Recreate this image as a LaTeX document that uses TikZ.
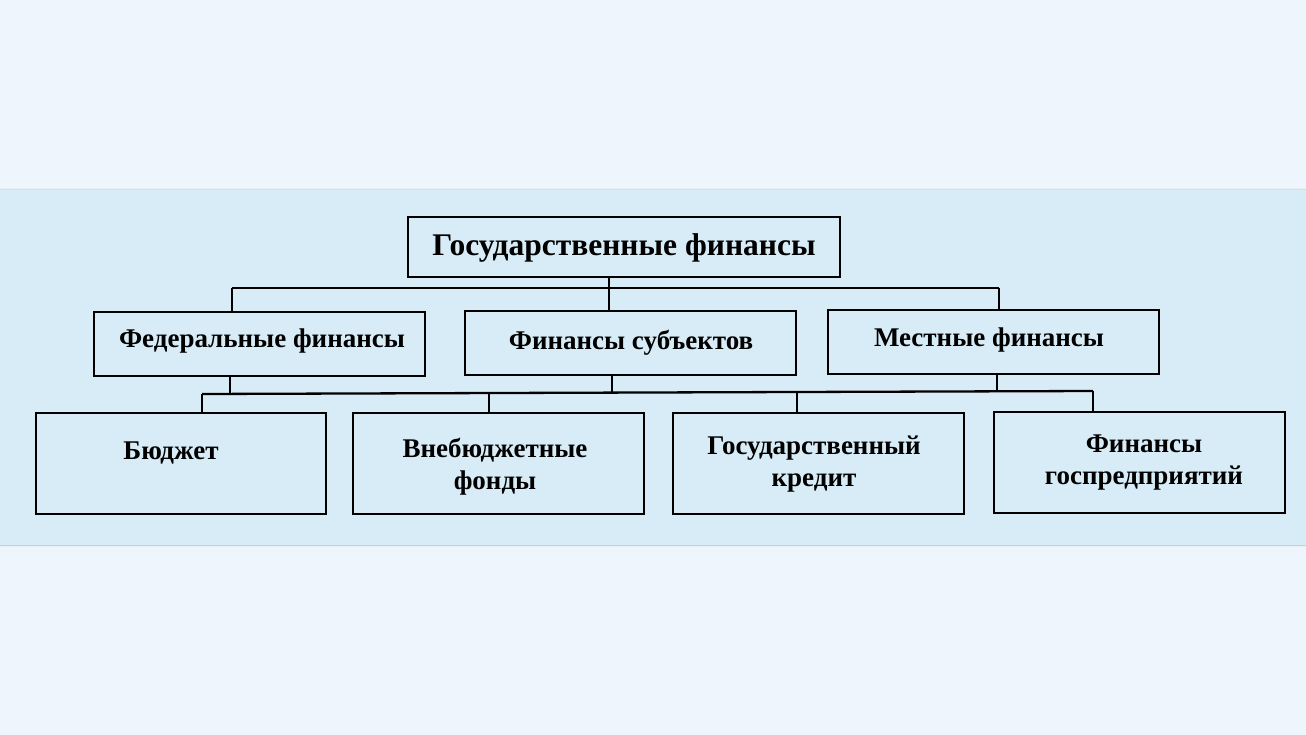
\documentclass[tikz,border=0pt]{standalone}
\usepackage{fontspec}
\setmainfont{Liberation Serif}
\usetikzlibrary{shadows.blur}
\definecolor{bgc}{HTML}{EEF5FD}
\definecolor{band}{HTML}{D7ECF6}
\begin{document}
\begin{tikzpicture}[x=1pt,y=-1pt,
  box/.style={draw=black,line width=2.3pt,fill=band},
  lbl/.style={font=\bfseries\fontsize{27}{32}\selectfont,align=center,text=black,inner sep=0pt},
  bigl/.style={font=\bfseries\fontsize{31.5}{34}\selectfont,text=black,inner sep=0pt},
  conn/.style={line width=2.3pt,black}]
\fill[bgc] (0,0) rectangle (1306,735);
\useasboundingbox (0,0) rectangle (1306,735);
\fill[band,blur shadow={shadow blur steps=10,shadow xshift=0pt,shadow yshift=0pt,shadow opacity=25}] (0,190) rectangle (1306,545);
% boxes
\draw[box] (408,217) rectangle (840,277);
\draw[box] (94,312) rectangle (425,376);
\draw[box] (465,311) rectangle (796,375);
\draw[box] (828,310) rectangle (1159,374);
\draw[box] (36,413) rectangle (326,514);
\draw[box] (353,413) rectangle (644,514);
\draw[box] (673,413) rectangle (964,514);
\draw[box] (994,412) rectangle (1285,513);
% labels
\node[bigl] (t) at (624,248) {Государственные финансы};
\node[lbl] (f) at (262,341) {Федеральные финансы};
\node[lbl] (s) at (631,343) {Финансы субъектов};
\node[lbl] (l) at (989,340) {Местные финансы};
\node[lbl] (b1) at (171,453) {Бюджет};
\node[lbl] (b2) at (495,467) {Внебюджетные\\фонды};
\node[lbl] (b3) at (814,464) {Государственный\\кредит};
\node[lbl] (b4) at (1144,463) {Финансы\\госпредприятий};
% connectors
\coordinate (a0) at (609,277); \coordinate (a1) at (609,288);
\coordinate (aL) at (232,288); \coordinate (aR) at (999,288);
\draw[conn] (a0) -- (a1);
\draw[conn] (aL) -- (232,312);
\draw[conn] (aR) -- (999,310);
\draw[conn] (aL) -- (aR);
\draw[conn] (a1) -- (609,311);
\coordinate (hL) at (202,394); \coordinate (hR) at (1093,391);
\draw[conn] (hL) -- (hR);
\draw[conn] (230,376) -- (230,394);
\draw[conn] (612,375) -- (612,394);
\draw[conn] (997,374) -- (997,391);
\draw[conn] (hL) -- (202,413);
\draw[conn] (489,393) -- (489,413);
\draw[conn] (797,392) -- (797,413);
\draw[conn] (hR) -- (1093,412);
\end{tikzpicture}
\end{document}
